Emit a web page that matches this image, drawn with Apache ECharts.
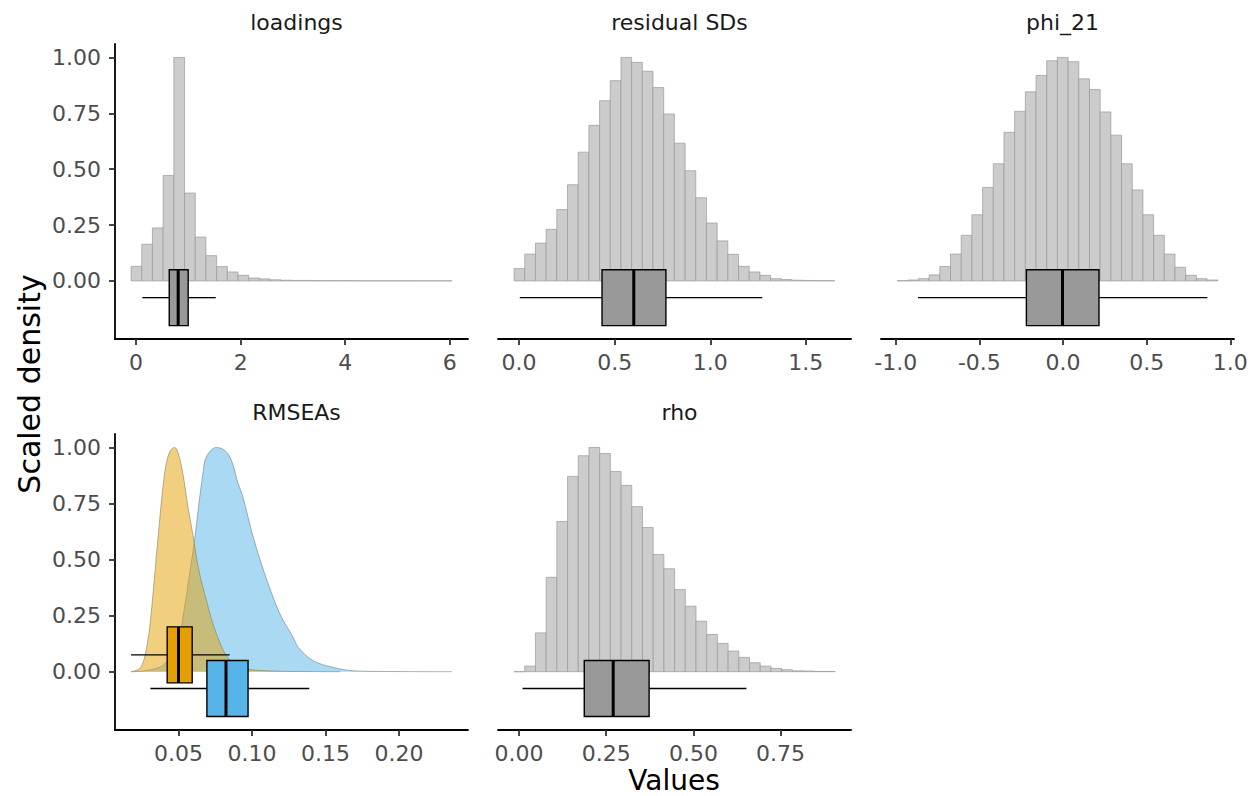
<!DOCTYPE html>
<html>
<head>
<meta charset="utf-8">
<title>Scaled density</title>
<script src="https://cdn.jsdelivr.net/npm/echarts@6/dist/echarts.min.js"></script>
<style>
  html, body { margin: 0; padding: 0; background: #fff; }
  #main { width: 1255px; height: 796px; }
</style>
</head>
<body>
<div id="main"></div>
<script>
// facet names
var panelNames = ['loadings', 'residual SDs', 'phi_21', 'RMSEAs', 'rho'];

// histograms: 30 bins each, scaled heights
var loadingsBinStart = -0.095, loadingsBinWidth = 0.2045;
var loadingsHeights = [0.065, 0.164, 0.237, 0.472, 1.0, 0.393, 0.196, 0.113, 0.064, 0.040,
    0.025, 0.013, 0.009, 0.005, 0.003, 0.002, 0.002, 0.001, 0.001, 0.001,
    0.001, 0.0005, 0.0005, 0.0005, 0.0005, 0.0005, 0.0003, 0.0003, 0.0003, 0.0003];

var residBinStart = -0.026, residBinWidth = 0.0559;
var residHeights = [0.055, 0.12, 0.169, 0.231, 0.319, 0.43, 0.576, 0.696, 0.806, 0.896,
    1.0, 0.978, 0.938, 0.865, 0.747, 0.616, 0.493, 0.372, 0.259, 0.179,
    0.119, 0.065, 0.04, 0.025, 0.01, 0.006, 0.003, 0.002, 0.001, 0.001];

var phiBinStart = -0.992, phiBinWidth = 0.0639;
var phiHeights = [0.001, 0.004, 0.01, 0.027, 0.064, 0.12, 0.204, 0.296, 0.418, 0.524,
    0.665, 0.759, 0.846, 0.919, 0.985, 1.0, 0.981, 0.904, 0.856, 0.756,
    0.652, 0.524, 0.407, 0.296, 0.204, 0.12, 0.061, 0.025, 0.01, 0.004];

var rhoBinStart = -0.0144, rhoBinWidth = 0.0307;
var rhoHeights = [0.0, 0.025, 0.173, 0.421, 0.67, 0.871, 0.963, 1.0, 0.973, 0.893,
    0.831, 0.736, 0.643, 0.523, 0.459, 0.366, 0.292, 0.225, 0.166, 0.126,
    0.092, 0.064, 0.04, 0.025, 0.015, 0.009, 0.004, 0.003, 0.001, 0.001];

// RMSEA densities (two groups)
var rmseaOrangeX = [0.0177, 0.0245, 0.0291, 0.0318, 0.0359, 0.0405, 0.0439, 0.0473, 0.0495, 0.053,
    0.0564, 0.0598, 0.0636, 0.0689, 0.0757, 0.0848, 0.095, 0.11, 0.13, 0.16];
var rmseaOrangeY = [0.0, 0.02, 0.138, 0.287, 0.585, 0.882, 0.98, 1.0, 0.98, 0.882,
    0.734, 0.61, 0.46, 0.32, 0.17, 0.05, 0.015, 0.004, 0.001, 0.0];
var rmseaBlueX = [0.0177, 0.0268, 0.0405, 0.0495, 0.0541, 0.0575, 0.0609, 0.0636, 0.0666, 0.0689,
    0.0757, 0.0814, 0.086, 0.0905, 0.0939, 0.0996, 0.1064, 0.1143, 0.12, 0.128,
    0.1314, 0.1416, 0.1553, 0.1689, 0.19, 0.236];
var rmseaBlueY = [0.0, 0.004, 0.034, 0.138, 0.287, 0.436, 0.585, 0.734, 0.882, 0.957,
    1.0, 0.987, 0.942, 0.84, 0.778, 0.629, 0.48, 0.333, 0.244, 0.153,
    0.109, 0.049, 0.019, 0.004, 0.001, 0.0];

// boxplots: [lower whisker, q1, median, q3, upper whisker]
var loadingsBox = [0.12, 0.635, 0.806, 0.997, 1.524];
var residBox = [0.004, 0.434, 0.6, 0.768, 1.272];
var phiBox = [-0.867, -0.219, -0.003, 0.215, 0.863];
var rhoBox = [0.01, 0.187, 0.27, 0.373, 0.652];
var rmseaOrangeBox = [0.0177, 0.0423, 0.05, 0.0593, 0.0848];
var rmseaBlueBox = [0.0309, 0.0693, 0.0823, 0.0973, 0.1389];

// ticks
var yTicks = [0, 0.25, 0.5, 0.75, 1];
var loadingsTicks = [0, 2, 4, 6];
var residTicks = [0, 0.5, 1, 1.5];
var phiTicks = [-1, -0.5, 0, 0.5, 1];
var rmseaTicks = [0.05, 0.1, 0.15, 0.2];
var rhoTicks = [0, 0.25, 0.5, 0.75];

var FONT = 'DejaVu Sans';
var chart = echarts.init(document.getElementById('main'), null, {renderer: 'svg'});

function histData(start, width, heights){
    var out = [];
    for(var i = 0; i < heights.length; i++){
        out.push([start + i * width, start + (i + 1) * width, heights[i]]);
    }
    return out;
}

function renderBar(params, api){
    var p0 = api.coord([api.value(0), api.value(2)]);
    var p1 = api.coord([api.value(1), 0]);
    return {
        type: 'rect',
        shape: {x: p0[0], y: p0[1], width: p1[0] - p0[0], height: p1[1] - p0[1]},
        style: {fill: '#cccccc', stroke: '#9a9a9a', lineWidth: 0.7}
    };
}

function boxRenderer(yLow, yHigh, fill){
    return function(params, api){
        var yMid = (yLow + yHigh) / 2;
        var lo = api.coord([api.value(0), yMid]);
        var q1 = api.coord([api.value(1), yHigh]);
        var med = api.coord([api.value(2), yMid]);
        var q3 = api.coord([api.value(3), yLow]);
        var hi = api.coord([api.value(4), yMid]);
        var line = {stroke: '#000', lineWidth: 1.3};
        return {
            type: 'group',
            children: [
                {type: 'line', shape: {x1: lo[0], y1: lo[1], x2: q1[0], y2: lo[1]}, style: line},
                {type: 'line', shape: {x1: q3[0], y1: hi[1], x2: hi[0], y2: hi[1]}, style: line},
                {type: 'rect', shape: {x: q1[0], y: q1[1], width: q3[0] - q1[0], height: q3[1] - q1[1]},
                    style: {fill: fill, stroke: '#000', lineWidth: 1.4}},
                {type: 'line', shape: {x1: med[0], y1: q1[1], x2: med[0], y2: q3[1]},
                    style: {stroke: '#000', lineWidth: 3}}
            ]
        };
    };
}

function pairs(xs, ys){
    var out = [];
    for(var i = 0; i < xs.length; i++) out.push([xs[i], ys[i]]);
    return out;
}

var grids = [
    {left: 115, top: 44, width: 353, height: 295},
    {left: 498, top: 44, width: 353, height: 295},
    {left: 881, top: 44, width: 353, height: 295},
    {left: 115, top: 434, width: 353, height: 296},
    {left: 498, top: 434, width: 353, height: 296}
];
var xRanges = [[-0.402, 6.347], [-0.110, 1.736], [-1.088, 1.022], [0.0068, 0.2469], [-0.0604, 0.952]];
var xTicks = [loadingsTicks, residTicks, phiTicks, rmseaTicks, rhoTicks];
var xDigits = [0, 1, 1, 2, 2];

var xAxes = [], yAxes = [], titles = [];
for(var g = 0; g < 5; g++){
    (function(g){
        xAxes.push({
            type: 'value', gridIndex: g, min: xRanges[g][0], max: xRanges[g][1],
            splitLine: {show: false},
            axisLine: {show: true, onZero: false, lineStyle: {color: '#000', width: 1.8}},
            axisTick: {show: true, length: 6, customValues: xTicks[g], lineStyle: {color: '#333', width: 1.8}},
            axisLabel: {
                customValues: xTicks[g], margin: 12, color: '#4d4d4d', fontSize: 22, lineHeight: 22,
                fontFamily: FONT,
                formatter: function(v){ return v.toFixed(xDigits[g]); }
            }
        });
        var showY = (g === 0 || g === 3);
        yAxes.push({
            type: 'value', gridIndex: g, min: -0.26, max: 1.06, show: showY,
            splitLine: {show: false},
            axisLine: {show: true, onZero: false, lineStyle: {color: '#000', width: 1.8}},
            axisTick: {show: true, length: 6, customValues: yTicks, lineStyle: {color: '#333', width: 1.8}},
            axisLabel: {
                customValues: yTicks, margin: 14, color: '#4d4d4d', fontSize: 22, lineHeight: 22,
                fontFamily: FONT,
                formatter: function(v){ return v.toFixed(2); }
            }
        });
        titles.push({
            text: panelNames[g],
            left: grids[g].left + grids[g].width / 2,
            top: grids[g].top - 38,
            textAlign: 'center',
            textStyle: {color: '#1a1a1a', fontSize: 22, fontWeight: 'normal', fontFamily: FONT}
        });
    })(g);
}

var series = [
    {type: 'custom', xAxisIndex: 0, yAxisIndex: 0, renderItem: renderBar, encode: {x: [0, 1], y: 2},
        data: histData(loadingsBinStart, loadingsBinWidth, loadingsHeights), z: 2},
    {type: 'custom', xAxisIndex: 1, yAxisIndex: 1, renderItem: renderBar, encode: {x: [0, 1], y: 2},
        data: histData(residBinStart, residBinWidth, residHeights), z: 2},
    {type: 'custom', xAxisIndex: 2, yAxisIndex: 2, renderItem: renderBar, encode: {x: [0, 1], y: 2},
        data: histData(phiBinStart, phiBinWidth, phiHeights), z: 2},
    {type: 'custom', xAxisIndex: 4, yAxisIndex: 4, renderItem: renderBar, encode: {x: [0, 1], y: 2},
        data: histData(rhoBinStart, rhoBinWidth, rhoHeights), z: 2},
    {type: 'line', xAxisIndex: 3, yAxisIndex: 3, data: pairs(rmseaBlueX, rmseaBlueY),
        smooth: 0.35, showSymbol: false, z: 2,
        lineStyle: {color: '#6f7f88', width: 0.6},
        areaStyle: {color: '#56B4E9', opacity: 0.5, origin: 'auto'}},
    {type: 'line', xAxisIndex: 3, yAxisIndex: 3, data: pairs(rmseaOrangeX, rmseaOrangeY),
        smooth: 0.35, showSymbol: false, z: 3,
        lineStyle: {color: '#8a7d60', width: 0.6},
        areaStyle: {color: '#E69F00', opacity: 0.5, origin: 'auto'}},
    {type: 'custom', xAxisIndex: 0, yAxisIndex: 0, renderItem: boxRenderer(-0.2, 0.05, '#999999'),
        encode: {x: [0, 1, 2, 3, 4]}, data: [loadingsBox], z: 5},
    {type: 'custom', xAxisIndex: 1, yAxisIndex: 1, renderItem: boxRenderer(-0.2, 0.05, '#999999'),
        encode: {x: [0, 1, 2, 3, 4]}, data: [residBox], z: 5},
    {type: 'custom', xAxisIndex: 2, yAxisIndex: 2, renderItem: boxRenderer(-0.2, 0.05, '#999999'),
        encode: {x: [0, 1, 2, 3, 4]}, data: [phiBox], z: 5},
    {type: 'custom', xAxisIndex: 4, yAxisIndex: 4, renderItem: boxRenderer(-0.2, 0.05, '#999999'),
        encode: {x: [0, 1, 2, 3, 4]}, data: [rhoBox], z: 5},
    {type: 'custom', xAxisIndex: 3, yAxisIndex: 3, renderItem: boxRenderer(-0.05, 0.2, '#E69F00'),
        encode: {x: [0, 1, 2, 3, 4]}, data: [rmseaOrangeBox], z: 5},
    {type: 'custom', xAxisIndex: 3, yAxisIndex: 3, renderItem: boxRenderer(-0.2, 0.05, '#56B4E9'),
        encode: {x: [0, 1, 2, 3, 4]}, data: [rmseaBlueBox], z: 5}
];

var option = {
    animation: false,
    backgroundColor: '#ffffff',
    title: titles,
    grid: grids,
    xAxis: xAxes,
    yAxis: yAxes,
    series: series,
    graphic: [
        {type: 'text', x: 29, y: 384, rotation: Math.PI / 2,
            style: {text: 'Scaled density', fill: '#000', font: '30px "DejaVu Sans"',
                textAlign: 'center', textVerticalAlign: 'middle'}},
        {type: 'text', x: 674, y: 780,
            style: {text: 'Values', fill: '#000', font: '28px "DejaVu Sans"', lineHeight: 26,
                textAlign: 'center', textVerticalAlign: 'middle'}}
    ]
};
chart.setOption(option);
</script>
</body>
</html>
